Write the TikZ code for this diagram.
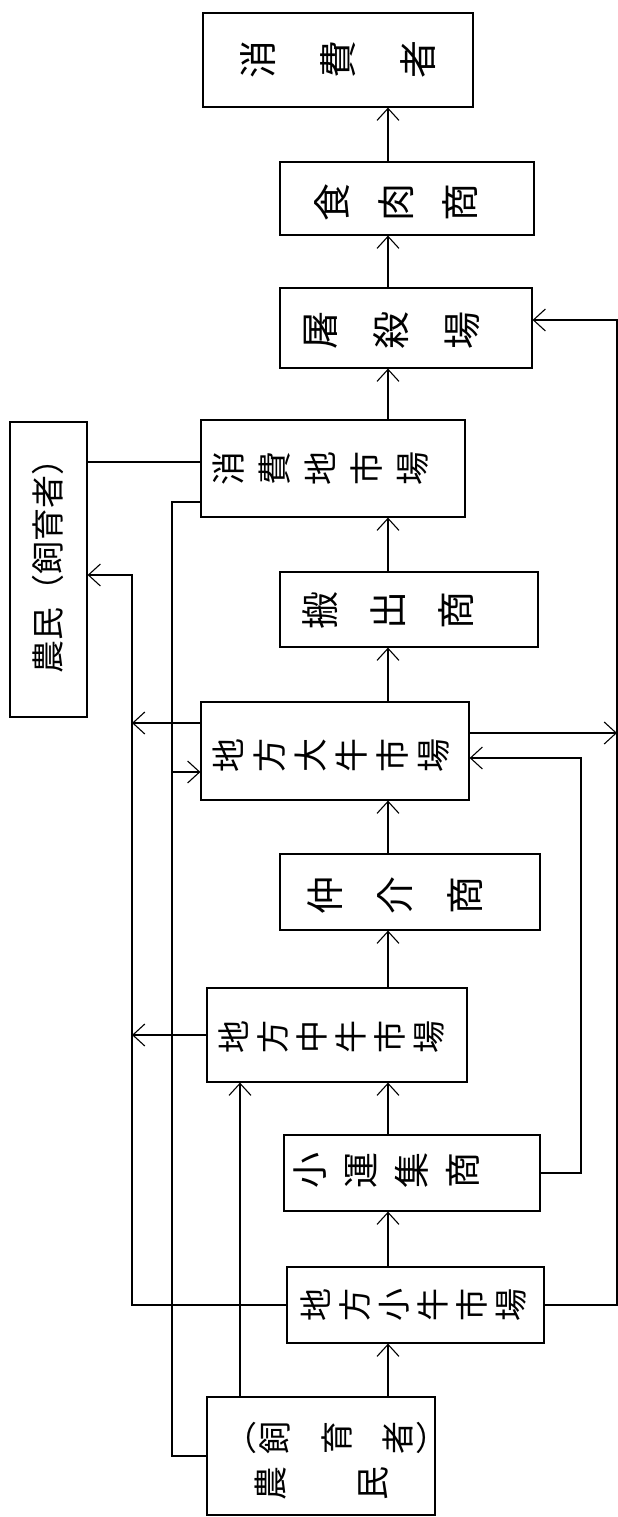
\documentclass[tikz,border=0pt]{standalone}
\usepackage{graphicx}
\usepackage{fontspec}
\newfontfamily\cjk{Noto Sans CJK JP}
\usetikzlibrary{arrows.meta}
\newcommand\vtxt[3]{\rotatebox{90}{\fontsize{#1}{#2}\selectfont\parbox{2em}{\centering\lineskiplimit=-\maxdimen #3}}}
\newcommand\vparen[1]{\rotatebox[origin=c]{-90}{#1}}
\tikzset{
  box/.style={draw, line width=1.2pt, rectangle, inner sep=0pt},
  lbl/.style={font=\cjk, inner sep=0pt},
  ln/.style={line width=1.1pt},
  arr/.style={line width=1.1pt, -{Straight Barb[length=12pt,width=22pt]}}
}
\begin{document}
\begin{tikzpicture}[x=1pt,y=-1pt]
\useasboundingbox (0,0) rectangle (618,1517);
% boxes
\node[box, minimum width=270pt, minimum height=94pt] (cons) at (338,60) {};
\node[box, minimum width=254pt, minimum height=73pt] (meat) at (407,198.5) {};
\node[box, minimum width=252pt, minimum height=80pt] (slau) at (406,328) {};
\node[box, minimum width=77pt, minimum height=295pt] (farmL) at (48.5,569.5) {};
\node[box, minimum width=264pt, minimum height=97pt] (consm) at (333,468.5) {};
\node[box, minimum width=258pt, minimum height=75pt] (ship) at (409,609.5) {};
\node[box, minimum width=268pt, minimum height=98pt] (bigm) at (335,751) {};
\node[box, minimum width=260pt, minimum height=76pt] (brok) at (410,892) {};
\node[box, minimum width=260pt, minimum height=94pt] (midm) at (337,1035) {};
\node[box, minimum width=256pt, minimum height=76pt] (coll) at (412,1173) {};
\node[box, minimum width=257pt, minimum height=76pt] (smallm) at (415.5,1305) {};
\node[box, minimum width=228pt, minimum height=118pt] (farmB) at (321,1456) {};
% labels
\node[lbl] (tcons) at (338,60) {\vtxt{38}{80}{消\\費\\者}};
\node[lbl] (tmeat) at (396,202) {\vtxt{38}{64}{食\\肉\\商}};
\node[lbl] (tslau) at (392,330) {\vtxt{38}{71}{屠\\殺\\場}};
\node[lbl, rotate=90, font=\cjk\fontsize{33}{33}\selectfont] (tfarmL) at (48,558) {農民（飼育者）};
\node[lbl] (tconsm) at (321,468) {\vtxt{34}{46}{消\\費\\地\\市\\場}};
\node[lbl] (tship) at (388,610) {\vtxt{38}{68}{搬\\出\\商}};
\node[lbl] (tbigm) at (331,755) {\vtxt{34}{41}{地\\方\\大\\牛\\市\\場}};
\node[lbl] (tbrok) at (395,895) {\vtxt{38}{70}{仲\\介\\商}};
\node[lbl] (tmidm) at (332,1037) {\vtxt{33}{39}{地\\方\\中\\牛\\市\\場}};
\node[lbl] (tcoll) at (387,1170) {\vtxt{36}{51}{小\\運\\集\\商}};
\node[lbl] (tsmall) at (414,1305) {\vtxt{33}{39}{地\\方\\小\\牛\\市\\場}};
\node[lbl] (tfarmB1) at (336.5,1438) {\vtxt{33}{34}{\vparen{（}\\飼\\[28pt]育\\[27pt]者\\\vparen{）}}};
\node[lbl] (tfarmB2) at (322,1483) {\vtxt{34}{102}{農\\民}};
% helper coordinates
\coordinate (cx) at (388,0);
\coordinate (lx1) at (132,0);
\coordinate (lx2) at (172,0);
\coordinate (lx3) at (240,0);
\coordinate (rx1) at (581,0);
\coordinate (rx2) at (617,0);
\coordinate (y320) at (0,320);
\coordinate (y462) at (0,462);
\coordinate (y502) at (0,502);
\coordinate (y575) at (0,575);
\coordinate (y723) at (0,723);
\coordinate (y733) at (0,733);
\coordinate (y758) at (0,758);
\coordinate (y772) at (0,772);
% main chain
\draw[arr] (farmB.north -| cx) -- (smallm.south -| cx);
\draw[arr] (smallm.north -| cx) -- (coll.south -| cx);
\draw[arr] (coll.north -| cx) -- (midm.south -| cx);
\draw[arr] (midm.north -| cx) -- (brok.south -| cx);
\draw[arr] (brok.north -| cx) -- (bigm.south -| cx);
\draw[arr] (bigm.north -| cx) -- (ship.south -| cx);
\draw[arr] (ship.north -| cx) -- (consm.south -| cx);
\draw[arr] (consm.north -| cx) -- (slau.south -| cx);
\draw[arr] (slau.north -| cx) -- (meat.south -| cx);
\draw[arr] (meat.north -| cx) -- (cons.south -| cx);
% left side
\draw[ln] (farmB.west) -- (farmB.west -| lx2) -- (lx2 |- y502) -- (consm.west |- y502);
\draw[arr] (lx2 |- y772) -- (bigm.west |- y772);
\draw[arr] (farmB.north -| lx3) -- (midm.south -| lx3);
\draw[arr] (smallm.west) -- (smallm.west -| lx1) -- (lx1 |- y575) -- (farmL.east |- y575);
\draw[arr] (bigm.west |- y723) -- (lx1 |- y723);
\draw[arr] (midm.west) -- (midm.west -| lx1);
\draw[ln] (consm.west |- y462) -- (farmL.east |- y462);
% right side
\draw[arr] (smallm.east) -- (smallm.east -| rx2) -- (rx2 |- y320) -- (slau.east |- y320);
\draw[arr] (bigm.east |- y733) -- (rx2 |- y733);
\draw[arr] (coll.east) -- (coll.east -| rx1) -- (rx1 |- y758) -- (bigm.east |- y758);
\end{tikzpicture}
\end{document}
